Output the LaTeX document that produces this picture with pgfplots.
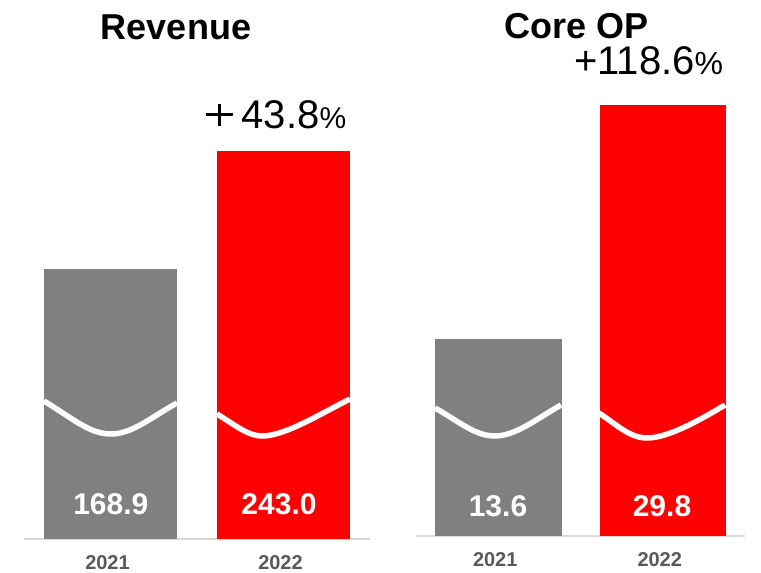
\documentclass[border=0pt]{standalone}
\usepackage{pgfplots}
\pgfplotsset{compat=1.18}
\usepackage{fontspec}
\setmainfont{Liberation Sans}

\definecolor{barGray}{HTML}{808080}
\definecolor{barRed}{HTML}{FF0000}
\definecolor{yearGray}{HTML}{595959}
\definecolor{baseGray}{HTML}{D9D9D9}

% wide thin plus sign as in the source slide
\newcommand{\wideplus}{\makebox[27pt][l]{\rule[11.9pt]{27pt}{2.8pt}\hspace{-14.9pt}\rule[2.3pt]{2.8pt}{22pt}}}

\pgfplotsset{
  panel/.style={
    scale only axis, clip=false,
    xmin=-0.5, xmax=1.5, ymin=0,
    axis y line=none, axis x line*=bottom,
    x axis line style={baseGray, line width=1.5pt, -},
    major tick length=0pt,
    xtick={0,1}, xticklabels={2021,2022},
    xticklabel style={font=\fontsize{20}{20}\selectfont\bfseries, text=yearGray,
      anchor=base, inner sep=0pt, yshift=-30.5pt, xshift=-3pt},
    ytick=\empty,
    ybar,
  }
}

\begin{document}
\begin{tikzpicture}
\useasboundingbox (0,0) rectangle (761pt,-573pt);

% Revenue
\begin{axis}[panel, at={(24pt,-539pt)}, anchor=south west,
    width=346pt, height=479pt, ymax=300, bar width=133pt]
\addplot[fill=barGray, draw=none, bar shift=0pt] coordinates {(0,168.9)};
\addplot[fill=barRed, draw=none, bar shift=0pt] coordinates {(1,243.0)};
\end{axis}

% Core OP
\begin{axis}[panel, at={(416pt,-536pt)}, anchor=south west,
    width=329pt, height=477.3pt, ymax=33, bar width=126.5pt]
\addplot[fill=barGray, draw=none, bar shift=0pt] coordinates {(0,13.6)};
\addplot[fill=barRed, draw=none, bar shift=0pt] coordinates {(1,29.8)};
\end{axis}

\begin{scope}[x=1pt, y=-1pt]
% break marks
\draw[white, line width=5.5pt]
  (44,401) .. controls (75,420) and (90,434) .. (111,434)
  .. controls (132,434) and (150,418) .. (177,403);
\draw[white, line width=5.5pt]
  (217,414) .. controls (235,425) and (248,436) .. (262,436)
  .. controls (285,436) and (320,414) .. (350,399);
\draw[white, line width=5.5pt]
  (435,408) .. controls (460,422) and (475,436) .. (495,436)
  .. controls (515,436) and (535,420) .. (561,405);
\draw[white, line width=5.5pt]
  (599,413) .. controls (617,425) and (630,438) .. (647,438)
  .. controls (668,438) and (700,420) .. (725,405);

% titles
\node[anchor=base, inner sep=0, font=\fontsize{36}{36}\selectfont\bfseries] at (176,39) {Revenue};
\node[anchor=base, inner sep=0, font=\fontsize{36}{36}\selectfont\bfseries] at (576.5,38) {Core OP};

% growth labels
\node[anchor=base west, inner sep=0, font=\fontsize{40}{40}\selectfont] at (206,128)
  {\wideplus\hspace{8.5pt}43.8{\fontsize{30}{30}\selectfont\%}};
\node[anchor=base west, inner sep=0, font=\fontsize{40}{40}\selectfont] at (574,74)
  {+118.6{\fontsize{32}{32}\selectfont\%}};

% values
\tikzset{val/.style={anchor=base, inner sep=0, text=white, font=\fontsize{30}{30}\selectfont\bfseries}}
\node[val] at (110.8,514) {168.9};
\node[val] at (279,514) {243.0};
\node[val] at (498,516) {13.6};
\node[val] at (662,516) {29.8};
\end{scope}
\end{tikzpicture}
\end{document}
